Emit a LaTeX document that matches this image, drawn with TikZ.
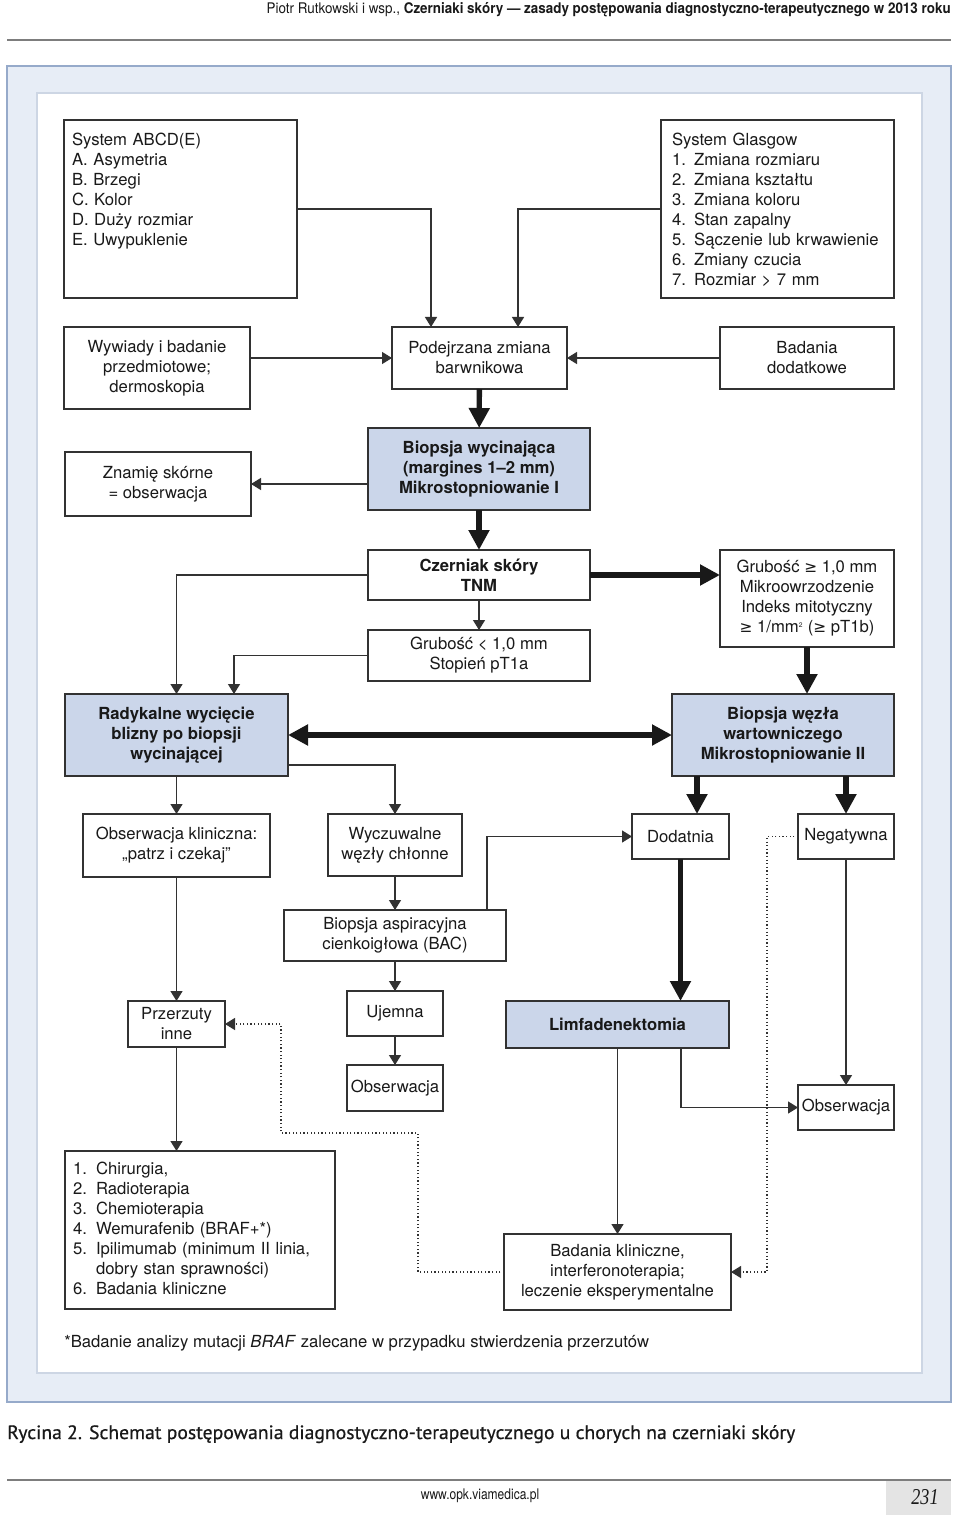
\documentclass[tikz,border=0pt]{standalone}
\usepackage{fontspec}
\setmainfont{TeX Gyre Heros}
\newfontfamily\hdrfont[FakeStretch=0.82]{TeX Gyre Heros}
\newfontfamily\capfont[FakeBold=0.6]{PT Sans}
\newfontfamily\pagefont[FakeStretch=0.8]{Liberation Serif}
\newfontfamily\symfont[Scale=0.92]{DejaVu Sans}
\usepackage{graphicx}
\usetikzlibrary{arrows.meta,calc,positioning}

\definecolor{boxblue}{RGB}{203,214,234}
\definecolor{panel}{RGB}{231,237,246}
\definecolor{panelline}{RGB}{150,170,202}
\definecolor{innerline}{RGB}{205,214,228}
\definecolor{boxline}{RGB}{50,50,50}
\definecolor{txt}{RGB}{25,25,25}
\definecolor{rulegray}{RGB}{125,125,125}
\definecolor{pagegray}{RGB}{228,228,228}

\newcommand{\itm}[1]{\makebox[17.25pt][l]{#1}}
\newcommand{\gesym}{{\symfont ≥}}

\begin{document}
\begin{tikzpicture}[x=0.75pt,y=-0.75pt,
  box/.style={draw=boxline, line width=1.1pt, fill=white, align=center,
    inner sep=0pt, outer sep=0pt, text=txt, font=\fontsize{12.5}{15}\selectfont},
  bluebox/.style={box, fill=boxblue, font=\fontsize{12.5}{15}\selectfont\bfseries},
  sz/.style 2 args={minimum width=#1*0.75pt, minimum height=#2*0.75pt},
  listbox/.style={box, align=left, anchor=north west, inner sep=6pt},
  flow/.style={-{Triangle[length=7.5pt,width=9pt]}, line width=1pt, draw=boxline},
  bigflow/.style={-{Triangle[length=15pt,width=15pt]}, line width=4pt, draw=txt},
  bigboth/.style={{Triangle[length=15pt,width=15pt]}-{Triangle[length=15pt,width=15pt]}, line width=4pt, draw=txt},
  dotflow/.style={-{Triangle[length=7.5pt,width=9pt]}, line width=0.9pt, draw=boxline,
    dash pattern=on 0.9pt off 1.8pt}]
\useasboundingbox (0,0) rectangle (960,1519);

% page head
\node[anchor=base east, inner sep=0pt, text=txt] (hdr) at (951,14)
  {\resizebox{513pt}{\height}{\hdrfont\fontsize{11}{13}\selectfont Piotr Rutkowski i wsp., \textbf{Czerniaki skóry — zasady postępowania diagnostyczno-terapeutycznego w 2013 roku}}};
\draw[rulegray, line width=0.8pt] (7,40) -- (951,40);

% panels
\draw[panelline, fill=panel, line width=0.8pt] (7,66) rectangle (951,1402);
\draw[innerline, fill=white, line width=0.8pt] (37,93) rectangle (922,1373);

% criteria
\node[listbox, text width=162.75pt, text height=13.5pt, text depth=108pt] (abcd) at (64,120)
  {System ABCD(E)\\A. Asymetria\\B. Brzegi\\C. Kolor\\D. Duży rozmiar\\E. Uwypuklenie};
\node[listbox, inner xsep=8.25pt, text width=158.25pt, text height=13.5pt, text depth=108pt] (glasgow) at (661,120)
  {System Glasgow\\1. Zmiana rozmiaru\\2. Zmiana kształtu\\3. Zmiana koloru\\4. Stan zapalny\\5. Sączenie lub krwawienie\\6. Zmiany czucia\\7. Rozmiar > 7 mm};

% diagnosis
\node[box, sz={186}{82}] (wywiady) at (157,368) {Wywiady i badanie\\przedmiotowe;\\dermoskopia};
\node[box, sz={175}{62}] (podejrz) at (479.5,358) {Podejrzana zmiana\\barwnikowa};
\node[box, sz={174}{62}] (dodatk) at (807,358) {Badania\\dodatkowe};
\node[box, sz={186}{64}] (znamie) at (158,484) {Znamię skórne\\= obserwacja};
\node[bluebox, sz={222}{82}] (biopsja) at (479,469) {Biopsja wycinająca\\(margines 1–2 mm)\\Mikrostopniowanie I};
\node[box, sz={222}{50}, font=\fontsize{12.5}{15}\selectfont\bfseries] (czerniak) at (479,575) {Czerniak skóry\\TNM};
\node[box, sz={222}{51}] (grubA) at (479,655.5) {Grubość < 1,0 mm\\Stopień pT1a};
\node[box, sz={174}{97}] (grubB) at (807,598.5)
  {Grubość \gesym{} 1,0 mm\\Mikroowrzodzenie\\Indeks mitotyczny\\\gesym{} 1/mm\textsuperscript{\tiny 2} (\gesym{} pT1b)};

% treatment
\node[bluebox, sz={223}{82}] (radyk) at (176.5,735) {Radykalne wycięcie\\blizny po biopsji\\wycinającej};
\node[bluebox, sz={222}{82}] (wezel) at (783,735) {Biopsja węzła\\wartowniczego\\Mikrostopniowanie II};
\node[box, sz={187}{63}] (obskl) at (176.5,845.5) {Obserwacja kliniczna:\\„patrz i czekaj”};
\node[box, sz={134}{62}] (wyczuw) at (395,845) {Wyczuwalne\\węzły chłonne};
\node[box, sz={97}{45}] (dodatnia) at (680.5,836.5) {Dodatnia};
\node[box, sz={96}{45}] (negat) at (846,836.5) {Negatywna};
\node[box, sz={222}{51}] (bac) at (395,935.5) {Biopsja aspiracyjna\\cienkoigłowa (BAC)};
\node[box, sz={97}{46}] (przerz) at (176.5,1024) {Przerzuty\\inne};
\node[box, sz={96}{45}] (ujemna) at (395,1013.5) {Ujemna};
\node[bluebox, sz={223}{47}] (limfa) at (617.5,1024.5) {Limfadenektomia};
\node[box, sz={96}{46}] (obsmid) at (395,1088) {Obserwacja};
\node[box, sz={96}{45}] (obsright) at (846,1107.5) {Obserwacja};
\node[listbox, text width=190.5pt, text height=11.25pt, text depth=95.25pt] (leczenie) at (65,1151)
  {\itm{1.}Chirurgia,\\\itm{2.}Radioterapia\\\itm{3.}Chemioterapia\\\itm{4.}Wemurafenib (BRAF+*)\\\itm{5.}Ipilimumab (minimum II linia,\\\hspace*{17.25pt}dobry stan sprawności)\\\itm{6.}Badania kliniczne};
\node[box, sz={227}{76}] (badkl) at (617.5,1272) {Badania kliniczne,\\interferonoterapia;\\leczenie eksperymentalne};

% connectors
\draw[flow] (abcd.east) -| ($(podejrz.north)+(-48.5,0)$);
\draw[flow] (glasgow.west) -| ($(podejrz.north)+(38.5,0)$);
\draw[flow] (wywiady.east |- podejrz.west) -- (podejrz.west);
\draw[flow] (dodatk.west) -- (podejrz.east);
\draw[bigflow] (podejrz) -- (biopsja);
\draw[flow] (biopsja.west |- znamie.east) -- (znamie.east);
\draw[bigflow] (biopsja) -- (czerniak);
\draw[flow] (czerniak) -- (grubA);
\draw[bigflow] (czerniak.east) -- (czerniak.east -| grubB.west);
\draw[flow] (czerniak.west) -| (radyk.north);
\draw[flow] (grubA.west) -| ($(radyk.north)+(57.5,0)$);
\draw[bigflow] (grubB.south) -- (grubB.south |- wezel.north);
\draw[bigboth] (radyk.east) -- (wezel.west);
\draw[flow] ($(radyk.east)+(0,30)$) -| (wyczuw.north);
\draw[flow] (radyk) -- (obskl);
\draw[bigflow] ($(wezel.south -| dodatnia.north)+(16.5,0)$) -- ($(dodatnia.north)+(16.5,0)$);
\draw[bigflow] (wezel.south -| negat.north) -- (negat.north);
\draw[flow] (wyczuw) -- (bac);
\draw[flow] ($(bac.north)+(92,0)$) |- (dodatnia.west);
\draw[flow] (bac) -- (ujemna);
\draw[flow] (ujemna) -- (obsmid);
\draw[bigflow] (dodatnia.south) -- (dodatnia.south |- limfa.north);
\draw[flow] (negat) -- (obsright);
\draw[dotflow] (negat.west) -- ++(-31,0) |- (badkl.east);
\draw[flow] ($(limfa.south)+(63.5,0)$) |- (obsright.west);
\draw[flow] (limfa) -- (badkl);
\draw[flow] (obskl) -- (przerz);
\draw[flow] (przerz.south) -- (przerz.south |- leczenie.north);
\draw[dotflow] (badkl.west) -- ++(-86,0) -- ++(0,-139) -| ($(przerz.east)+(56,0)$) -- (przerz.east);

% footnote and caption
\node[anchor=base west, inner sep=0pt, text=txt, font=\fontsize{12.5}{15}\selectfont] (uwaga) at (64,1347)
  {*Badanie analizy mutacji \textit{BRAF} zalecane w przypadku stwierdzenia przerzutów};
\node[anchor=base west, inner sep=0pt, text=txt] (podpis) at (7,1439)
  {\resizebox{591pt}{\height}{\capfont\fontsize{14.5}{17}\selectfont Rycina 2. Schemat postępowania diagnostyczno-terapeutycznego u chorych na czerniaki skóry}};

% page foot
\draw[rulegray, line width=1.4pt] (7,1480) -- (951,1480);
\fill[pagegray] (886,1481) rectangle (951,1515);
\node[inner sep=0pt, text=txt, font=\hdrfont\fontsize{11}{13}\selectfont] (www) at (480,1496) {www.opk.viamedica.pl};
\node[inner sep=0pt, text=txt, font=\pagefont\itshape\fontsize{17}{19}\selectfont] (strona) at (925,1497) {231};
\end{tikzpicture}
\end{document}
